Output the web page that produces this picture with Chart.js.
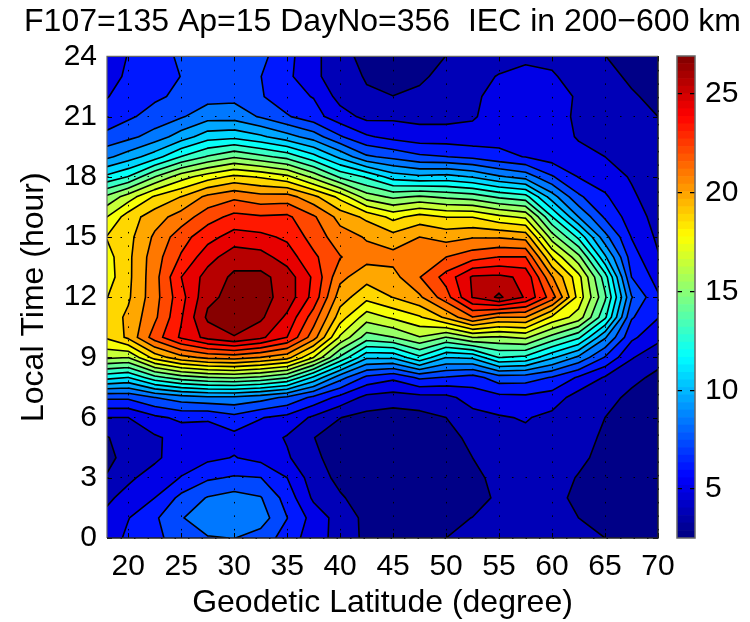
<!DOCTYPE html>
<html>
<head>
<meta charset="utf-8">
<title>IEC contour</title>
<script src="https://cdn.jsdelivr.net/npm/chart.js@4/dist/chart.umd.js"></script>
<style>
  body { margin: 0; background: #fff; }
  #wrap { position: relative; width: 750px; height: 622px; }
  canvas { position: absolute; left: 0; top: 0; }
</style>
</head>
<body>
<div id="wrap">
  <canvas id="mainChart" width="750" height="622"></canvas>
  <canvas id="barChart" width="750" height="622"></canvas>
</div>
<script>
const latitudes = [18, 20, 22.5, 25, 27.5, 30, 32.5, 35, 37.5, 40, 42.5, 45, 47.5, 50, 52.5, 55, 57.5, 60, 62.5, 65, 67.5, 70];
const hours = [0, 1, 2, 3, 4, 5, 6, 7, 8, 9, 10, 11, 12, 13, 14, 15, 16, 17, 18, 19, 20, 21, 22, 23, 24];
const xTicks = [20, 25, 30, 35, 40, 45, 50, 55, 60, 65, 70];
const yTicks = [0, 3, 6, 9, 12, 15, 18, 21, 24];
const barTicks = [5, 10, 15, 20, 25];
const levels = [3.68, 4.81, 5.95, 7.08, 8.22, 9.35, 10.49, 11.62, 12.76, 13.89, 15.03, 16.16, 17.30, 18.43, 19.57, 20.70, 21.84, 22.97, 24.11, 25.24, 26.38];

// IEC per hour (0..24) for each latitude
const lat18 = [5.3,5.1,4.6,3.8,3.3,3.6,4.8,7.3,12.0,16.4,18.6,18.9,18.4,17.9,18.0,18.5,17.3,15.3,11.9,9.1,7.4,6.4,5.9,5.6,5.3];
const lat20 = [6.2,5.9,5.2,4.6,4.2,4.3,4.8,7.3,11.6,16.2,19.8,19.8,19.4,19.3,19.3,19.2,19.0,16.7,12.8,9.9,7.9,6.9,6.4,6.1,6.0];
const lat22 = [6.8,6.9,5.95,5.3,4.6,4.65,5.7,8.2,13.5,18.9,22.4,21.6,21.4,21.4,21.3,20.9,20.2,18.6,15.0,11.1,8.7,7.5,6.9,6.6,6.5];
const lat25 = [7.6,8.1,7.4,6.0,5.4,5.2,6.2,8.8,14.5,20.3,24.3,24.0,23.7,24.1,23.1,22.5,21.2,19.6,16.8,12.8,9.9,8.1,7.3,7.1,7.3];
const lat27 = [8.1,9.2,8.3,6.9,5.7,5.3,6.1,9.1,15.0,21.0,25.6,26.6,26.1,25.7,24.8,23.7,22.5,21.0,17.9,14.0,11.1,8.9,7.8,7.8,7.8];
const lat30 = [8.25,9.2,8.7,7.2,6.0,5.6,6.7,9.1,15.2,21.2,26.35,26.7,26.76,26.6,25.9,24.6,23.3,21.6,18.7,14.9,11.3,8.9,7.9,7.6,7.5];
const lat32 = [7.7,8.8,8.3,7.1,5.6,5.4,6.0,8.7,14.8,20.7,25.5,26.6,26.76,26.7,25.7,24.4,23.1,21.1,18.3,14.2,10.7,8.1,7.2,7.1,7.4];
const lat35 = [6.6,7.1,6.6,5.95,4.95,4.7,5.6,8.0,14.0,20.0,24.1,25.0,25.95,25.85,24.7,23.9,23.2,21.2,17.6,13.5,9.8,7.2,6.3,6.2,6.3];
const lat37 = [5.3,5.5,4.6,4.2,3.9,3.7,4.6,6.8,11.4,17.3,21.2,22.4,23.7,23.9,23.2,22.5,22.0,19.9,15.8,12.0,8.8,6.4,5.9,5.1,5.1];
const lat40 = [4.4,4.3,3.8,3.4,3.2,3.2,3.7,5.6,8.7,13.7,17.1,19.0,20.1,21.0,21.9,21.2,20.3,18.1,13.7,10.2,7.2,5.3,4.4,4.1,4.1];
const lat42 = [3.4,3.4,3.2,3.0,3.0,3.0,3.3,4.5,6.8,10.7,14.5,16.7,18.8,20.0,21.1,20.6,19.3,15.6,12.6,8.4,6.1,4.5,3.8,3.6,3.3];
const lat45 = [2.9,2.8,2.8,2.8,2.8,2.8,3.1,4.3,6.2,10.7,15.0,17.5,19.6,20.3,21.1,20.0,18.1,14.8,11.1,7.9,5.6,4.6,3.7,3.1,2.9];
const lat47 = [2.8,2.7,2.7,2.7,2.7,2.8,3.3,4.4,7.3,12.5,16.1,18.3,20.5,21.8,21.6,20.7,18.9,15.2,10.7,7.3,5.3,4.5,3.9,3.5,3.0];
const lat50 = [3.68,3.4,3.0,2.9,3.0,3.3,3.68,4.5,7.0,10.5,15.0,19.8,22.5,23.4,21.84,20.3,18.4,14.8,10.9,7.1,5.3,4.5,4.2,4.0,3.7];
const lat52 = [4.1,3.7,3.3,3.4,3.68,3.95,4.4,5.3,6.6,10.7,16.2,21.8,25.3,25.4,22.5,20.6,18.4,14.5,10.4,6.8,5.2,4.7,4.6,4.3,4.0];
const lat55 = [4.4,4.3,3.85,4.0,4.1,4.3,4.7,5.6,7.7,12.8,16.0,20.6,26.6,25.5,23.0,20.6,17.6,13.7,9.5,6.3,5.5,5.3,5.2,4.9,4.2];
const lat57 = [4.3,4.2,4.2,4.3,4.4,4.55,4.9,5.7,7.6,12.5,16.4,20.7,25.1,25.0,23.0,20.3,17.1,13.2,8.9,5.9,5.5,5.4,5.3,5.1,4.6];
const lat60 = [4.3,4.2,4.2,4.2,4.4,4.4,4.5,5.4,7.0,10.7,14.6,18.2,22.4,20.8,18.4,15.6,12.8,9.9,7.2,5.4,5.4,5.3,5.2,4.95,4.5];
const lat62 = [4.0,3.68,3.3,3.6,3.95,4.1,4.2,4.3,5.8,9.1,13.0,16.8,18.0,17.7,15.4,12.5,9.35,7.3,5.9,5.2,4.7,4.6,4.7,4.3,4.1];
const lat65 = [3.68,3.2,3.0,3.1,3.3,3.5,3.68,4.1,4.7,7.0,9.5,13.0,14.1,13.3,10.7,8.6,6.9,6.1,5.4,4.81,4.4,4.2,4.1,4.0,3.7];
const lat67 = [3.0,2.9,2.9,2.9,2.9,2.9,3.1,3.4,4.0,4.9,6.2,7.2,8.3,7.08,6.5,5.9,5.4,5.0,4.7,4.4,4.2,4.0,3.8,3.5,3.2];
const lat70 = [2.9,2.9,2.9,2.9,2.9,2.9,2.9,3.1,3.4,4.1,5.1,6.0,6.1,5.5,4.9,4.6,4.4,4.2,4.1,3.95,3.8,3.68,3.4,3.2,3.0];
const iecColumns = [lat18, lat20, lat22, lat25, lat27, lat30, lat32, lat35, lat37, lat40, lat42, lat45, lat47, lat50, lat52, lat55, lat57, lat60, lat62, lat65, lat67, lat70];

const barMin = 2.52;
const barMax = 26.92;
const mapSize = 64;

Chart.defaults.font.family = "'Liberation Sans', Arial, sans-serif";
Chart.defaults.color = '#000';

function jet(i) {
  const c = v => Math.round(255 * Math.min(1, Math.max(0, v)));
  const t = (i + 0.5) / 16;
  const r = c(Math.min(t - 1.5, 4.5 - t));
  const g = c(Math.min(t - 0.5, 3.5 - t));
  const b = c(Math.min(t + 0.5, 2.5 - t));
  return `rgb(${r},${g},${b})`;
}

// band k sits above levels[k-1], each band is 3 colormap steps
function bandColor(k) { return jet(Math.min(63, k * 3)); }

function cellClip(lv, i, j) {
  const xs = [latitudes[i], latitudes[i + 1], latitudes[i + 1], latitudes[i]];
  const ys = [hours[j], hours[j], hours[j + 1], hours[j + 1]];
  const zs = [iecColumns[i][j], iecColumns[i + 1][j], iecColumns[i + 1][j + 1], iecColumns[i][j + 1]];
  let start = zs.findIndex(z => z >= lv);
  if (start < 0) return null;
  const poly = [], segs = [];
  let lastExit = null;
  for (let n = 0; n < 4; n++) {
    const a = (start + n) % 4, b = (a + 1) % 4;
    const ina = zs[a] >= lv, inb = zs[b] >= lv;
    if (ina) poly.push([xs[a], ys[a]]);
    if (ina !== inb) {
      const t = (lv - zs[a]) / (zs[b] - zs[a]);
      const p = [xs[a] + t * (xs[b] - xs[a]), ys[a] + t * (ys[b] - ys[a])];
      poly.push(p);
      if (ina) lastExit = p;
      else { segs.push([lastExit, p]); lastExit = null; }
    }
  }
  return { poly, segs };
}

const contourPlugin = {
  id: 'contour',
  beforeDatasetsDraw(chart) {
    const { ctx, chartArea: a, scales: { x, y } } = chart;
    ctx.save();
    ctx.beginPath();
    ctx.rect(a.left, a.top, a.right - a.left, a.bottom - a.top);
    ctx.clip();
    ctx.fillStyle = bandColor(0);
    ctx.fillRect(a.left, a.top, a.right - a.left, a.bottom - a.top);
    const px = p => [x.getPixelForValue(p[0]), y.getPixelForValue(p[1])];
    const lines = [];
    levels.forEach((lv, idx) => {
      ctx.beginPath();
      for (let i = 0; i < latitudes.length - 1; i++) {
        for (let j = 0; j < hours.length - 1; j++) {
          const c = cellClip(lv, i, j);
          if (!c) continue;
          c.poly.forEach((p, n) => {
            const q = px(p);
            if (n === 0) ctx.moveTo(q[0], q[1]); else ctx.lineTo(q[0], q[1]);
          });
          ctx.closePath();
          c.segs.forEach(s => lines.push(s));
        }
      }
      ctx.fillStyle = bandColor(idx + 1);
      ctx.fill();
    });
    ctx.beginPath();
    lines.forEach(s => {
      const p = px(s[0]), q = px(s[1]);
      ctx.moveTo(p[0], p[1]);
      ctx.lineTo(q[0], q[1]);
    });
    ctx.strokeStyle = '#000';
    ctx.lineWidth = 1.6;
    ctx.lineCap = 'round';
    ctx.stroke();
    ctx.restore();
  },
  afterDraw(chart) {
    const { ctx, chartArea: a, scales: { x, y } } = chart;
    ctx.save();
    ctx.strokeStyle = '#000';
    ctx.lineWidth = 1;
    ctx.beginPath();
    xTicks.forEach(v => {
      const p = Math.round(x.getPixelForValue(v)) + 0.5;
      ctx.moveTo(p, a.bottom); ctx.lineTo(p, a.bottom - 5);
      ctx.moveTo(p, a.top); ctx.lineTo(p, a.top + 5);
    });
    yTicks.forEach(v => {
      const p = Math.round(y.getPixelForValue(v)) + 0.5;
      ctx.moveTo(a.left, p); ctx.lineTo(a.left + 5, p);
      ctx.moveTo(a.right, p); ctx.lineTo(a.right - 5, p);
    });
    ctx.stroke();
    ctx.strokeStyle = '#666';
    ctx.lineWidth = 1.2;
    ctx.beginPath();
    ctx.moveTo(a.left, a.bottom); ctx.lineTo(a.left, a.top); ctx.lineTo(a.right, a.top);
    ctx.stroke();
    ctx.strokeStyle = '#222';
    ctx.lineWidth = 1.5;
    ctx.beginPath();
    ctx.moveTo(a.right, a.top); ctx.lineTo(a.right, a.bottom); ctx.lineTo(a.left, a.bottom);
    ctx.stroke();
    ctx.restore();
  }
};

const gridPoints = [];
latitudes.forEach((lat, i) => hours.forEach((h, j) => gridPoints.push({ x: lat, y: h, v: iecColumns[i][j] })));

new Chart(document.getElementById('mainChart'), {
  type: 'scatter',
  data: { datasets: [{ data: gridPoints, pointRadius: 0, showLine: false, xAxisID: 'x', yAxisID: 'y' }] },
  plugins: [contourPlugin],
  options: {
    responsive: false,
    animation: false,
    layout: { padding: { left: 15, right: 0, top: 0, bottom: 0 } },
    plugins: {
      legend: { display: false },
      tooltip: { enabled: false },
      title: {
        display: true,
        text: 'F107=135 Ap=15 DayNo=356  IEC in 200\u2212600 km',
        font: { size: 32, weight: 'normal' },
        padding: { top: 3, bottom: 15 }
      }
    },
    scales: {
      x: {
        type: 'linear', min: 18, max: 70,
        afterBuildTicks: s => { s.ticks = xTicks.map(v => ({ value: v })); },
        afterFit: s => { s.height = 84; },
        border: { display: false, dash: [1.5, 12] },
        grid: { z: 1, color: '#000', lineWidth: 1, drawTicks: false },
        ticks: { autoSkip: false, maxRotation: 0, padding: 11, font: { size: 30 } },
        title: { display: true, text: 'Geodetic Latitude (degree)', font: { size: 32 }, padding: { top: 0, bottom: 0 } }
      },
      y: {
        type: 'linear', min: 0, max: 24,
        afterBuildTicks: s => { s.ticks = yTicks.map(v => ({ value: v })); },
        afterFit: s => { s.width = 92; },
        border: { display: false, dash: [1.5, 12] },
        grid: { z: 1, color: '#000', lineWidth: 1, drawTicks: false },
        ticks: { autoSkip: false, padding: 10, font: { size: 30 } },
        title: { display: true, text: 'Local Time (hour)', font: { size: 32 }, padding: { top: 0, bottom: 0 } }
      },
      // keeps the room for the colorbar on the right
      side: {
        type: 'linear', position: 'right',
        afterFit: s => { s.width = 92; },
        border: { display: false },
        grid: { display: false, drawTicks: false },
        ticks: { display: false }
      }
    }
  }
});

// colorbar: one floating bar per colormap entry
const barStep = (barMax - barMin) / mapSize;
const barSets = [];
for (let i = 0; i < mapSize; i++) {
  barSets.push({
    data: [[barMin + i * barStep, barMin + (i + 1) * barStep]],
    backgroundColor: jet(i),
    borderWidth: 0,
    barPercentage: 1,
    categoryPercentage: 1,
    grouped: false
  });
}

new Chart(document.getElementById('barChart'), {
  type: 'bar',
  data: { labels: [''], datasets: barSets },
  plugins: [{
    id: 'barFrame',
    afterDraw(chart) {
      const { ctx, chartArea: a } = chart;
      ctx.save();
      ctx.strokeStyle = '#666';
      ctx.lineWidth = 1.5;
      ctx.strokeRect(a.left, a.top, a.right - a.left, a.bottom - a.top);
      ctx.restore();
    }
  }],
  options: {
    responsive: false,
    animation: false,
    layout: { padding: { left: 677, right: 0, top: 56, bottom: 84 } },
    plugins: { legend: { display: false }, tooltip: { enabled: false } },
    scales: {
      x: { display: false },
      y: {
        position: 'right',
        min: barMin, max: barMax,
        afterBuildTicks: s => { s.ticks = barTicks.map(v => ({ value: v })); },
        afterFit: s => { s.width = 55; },
        border: { display: false, dash: [5, 8] },
        grid: { z: 1, color: '#000', lineWidth: 1.2, drawTicks: false },
        ticks: { autoSkip: false, padding: 10, font: { size: 30 } }
      }
    }
  }
});
</script>
</body>
</html>
